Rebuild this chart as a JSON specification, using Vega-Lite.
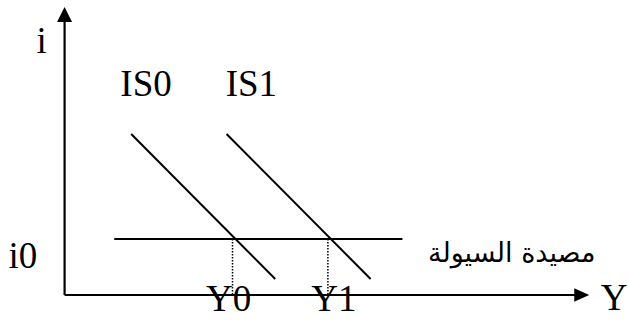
{
  "$schema": "https://vega.github.io/schema/vega-lite/v6.json",
  "width": 628,
  "height": 320,
  "autosize": {"type": "fit", "contains": "padding"},
  "padding": 0,
  "background": "white",
  "config": {"view": {"stroke": null}},
  "datasets": {
    "axes": [
      {"x": 0, "y": 0, "x2": 520, "y2": 0},
      {"x": 0, "y": 0, "x2": 0, "y2": 280}
    ],
    "curves": [
      {"name": "IS0", "x": 67, "y": 161, "x2": 212, "y2": 16},
      {"name": "IS1", "x": 163, "y": 161, "x2": 308, "y2": 16},
      {"name": "LM", "x": 50, "y": 56, "x2": 340, "y2": 56}
    ],
    "guides": [
      {"name": "Y0", "x": 169, "y": 56, "x2": 169, "y2": 0},
      {"name": "Y1", "x": 265, "y": 56, "x2": 265, "y2": 0}
    ],
    "arrowUp": [{"x": 0, "y": 288}],
    "arrowRight": [{"x": 528, "y": 0}],
    "labels": [
      {"text": "i", "x": -23, "y": 242},
      {"text": "i0", "x": -42, "y": 27},
      {"text": "IS0", "x": 82, "y": 199},
      {"text": "IS1", "x": 188, "y": 199},
      {"text": "Y0", "x": 165, "y": -16},
      {"text": "Y1", "x": 271, "y": -16},
      {"text": "Y", "x": 553, "y": -15}
    ],
    "trapLabel": [{"text": "مصيدة السيولة", "x": 450, "y": 33}]
  },
  "layer": [
    {
      "data": {"name": "axes"},
      "mark": {"type": "rule", "color": "black", "strokeWidth": 2.2},
      "encoding": {
        "x": {"field": "x", "type": "quantitative", "scale": {"domain": [-65, 563], "nice": false, "zero": false}, "axis": null},
        "y": {"field": "y", "type": "quantitative", "scale": {"domain": [-25, 295], "nice": false, "zero": false}, "axis": null},
        "x2": {"field": "x2"},
        "y2": {"field": "y2"}
      }
    },
    {
      "data": {"name": "curves"},
      "mark": {"type": "rule", "color": "black", "strokeWidth": 2},
      "encoding": {
        "x": {"field": "x", "type": "quantitative"},
        "y": {"field": "y", "type": "quantitative"},
        "x2": {"field": "x2"},
        "y2": {"field": "y2"}
      }
    },
    {
      "data": {"name": "guides"},
      "mark": {"type": "rule", "color": "black", "strokeWidth": 1.5, "strokeDash": [1.5, 1.5]},
      "encoding": {
        "x": {"field": "x", "type": "quantitative"},
        "y": {"field": "y", "type": "quantitative"},
        "x2": {"field": "x2"},
        "y2": {"field": "y2"}
      }
    },
    {
      "data": {"name": "arrowUp"},
      "mark": {"type": "point", "shape": "M0,0L-1,2L1,2Z", "size": 225, "filled": true, "color": "black", "opacity": 1},
      "encoding": {
        "x": {"field": "x", "type": "quantitative"},
        "y": {"field": "y", "type": "quantitative"}
      }
    },
    {
      "data": {"name": "arrowRight"},
      "mark": {"type": "point", "shape": "M0,0L-2,-0.9L-2,0.9Z", "size": 225, "filled": true, "color": "black", "opacity": 1},
      "encoding": {
        "x": {"field": "x", "type": "quantitative"},
        "y": {"field": "y", "type": "quantitative"}
      }
    },
    {
      "data": {"name": "labels"},
      "mark": {"type": "text", "font": "Liberation Serif", "fontSize": 37, "align": "center", "baseline": "alphabetic", "color": "black"},
      "encoding": {
        "x": {"field": "x", "type": "quantitative"},
        "y": {"field": "y", "type": "quantitative"},
        "text": {"field": "text"}
      }
    },
    {
      "data": {"name": "trapLabel"},
      "mark": {"type": "text", "font": "DejaVu Sans", "fontSize": 27, "align": "center", "baseline": "alphabetic", "color": "black"},
      "encoding": {
        "x": {"field": "x", "type": "quantitative"},
        "y": {"field": "y", "type": "quantitative"},
        "text": {"field": "text"}
      }
    }
  ]
}
